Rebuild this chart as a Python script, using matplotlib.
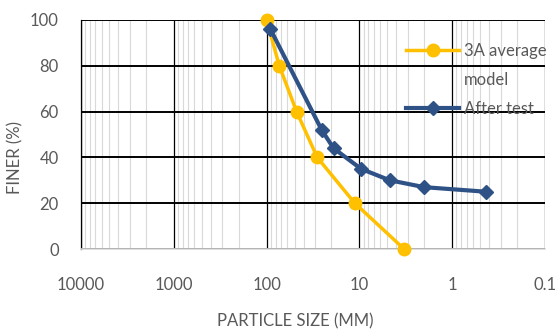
import matplotlib
matplotlib.use("Agg")
import matplotlib.pyplot as plt
from matplotlib.lines import Line2D
from matplotlib.ticker import LogLocator, FixedLocator, NullFormatter

plt.rcParams['font.family'] = ['Lato', 'DejaVu Sans']

size_avg = [100, 73, 47.5, 28.5, 11.2, 3.3]
finer_avg = [100, 80, 60, 40, 20, 0]
size_after = [91, 25.5, 19, 9.6, 4.7, 2.0, 0.43]
finer_after = [96, 52, 44, 35, 30, 27, 25]
xticks = [10000, 1000, 100, 10, 1, 0.1]
xticklabels = ['10000', '1000', '100', '10', '1', '0.1']
yticks = [0, 20, 40, 60, 80, 100]

YELLOW = '#FFC000'
BLUE = '#2F5286'
GRAY = '#595959'
FS = 12

fig = plt.figure(figsize=(5.58, 3.30), dpi=100)
ax = fig.add_axes([81 / 558, 1 - 249 / 330, (545 - 81) / 558, (249 - 20) / 330])
ax.set_xscale('log')
ax.set_xlim(10000, 0.1)
ax.set_ylim(0, 100)

ax.xaxis.set_major_locator(FixedLocator(xticks))
ax.set_xticklabels(xticklabels)
ax.xaxis.set_minor_locator(LogLocator(base=10, subs=range(2, 10), numticks=20))
ax.xaxis.set_minor_formatter(NullFormatter())
ax.set_yticks(yticks)

ax.grid(which='minor', axis='x', color='#D9D9D9', linewidth=0.8, zorder=1.5)
ax.grid(which='major', axis='x', color='black', linewidth=0.9, zorder=1)
ax.grid(which='major', axis='y', color='black', linewidth=1.4, zorder=1)
ax.set_axisbelow(True)

for s in ['top', 'right']:
    ax.spines[s].set_visible(False)
ax.spines['left'].set_color('black')
ax.spines['left'].set_linewidth(0.9)
ax.spines['bottom'].set_color('#D9D9D9')
ax.spines['bottom'].set_linewidth(1.2)

ax.tick_params(axis='both', which='both', length=0, colors=GRAY, labelsize=FS)
ax.tick_params(axis='x', pad=20)
ax.tick_params(axis='y', pad=16)

l1, = ax.plot(size_avg, finer_avg, color=YELLOW, linewidth=2.5, marker='o',
              markersize=9, zorder=3, clip_on=False)
l2, = ax.plot(size_after, finer_after, color=BLUE, linewidth=3, marker='D',
              markersize=7.5, zorder=4, clip_on=False)

ax.set_xlabel('PARTICLE SIZE (MM)', color=GRAY, fontsize=FS)
ax.set_ylabel('FINER (%)', color=GRAY, fontsize=FS)
ax.xaxis.set_label_coords((295 - 81) / (545 - 81), -(313 - 249) / (249 - 20))
ax.yaxis.set_label_coords(-(81 - 23) / (545 - 81), (249 - 157) / (249 - 20))

blank = Line2D([], [], linestyle='none')
leg = ax.legend([l1, blank, l2], ['3A average', 'model', 'After test'],
                loc='upper left', bbox_to_anchor=((406 - 81) / 464, 1 - (43 - 20) / 229),
                frameon=False, fontsize=FS, handlelength=3.2, handletextpad=0.3,
                labelspacing=0.78, borderaxespad=0, borderpad=0)
for t in leg.get_texts():
    t.set_color(GRAY)

fig.savefig('out.png', dpi=100)
